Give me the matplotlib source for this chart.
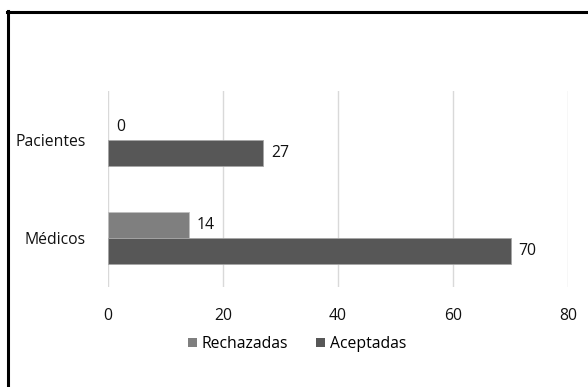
import numpy as np
import matplotlib.pyplot as plt
from matplotlib.patches import Patch
from matplotlib.lines import Line2D

plt.rcParams['font.family'] = ['Open Sans', 'DejaVu Sans']

categorias = ["Médicos", "Pacientes"]
rechazadas = [14, 0]
aceptadas = [70, 27]
series = ["Rechazadas", "Aceptadas"]
color_rech = "#7f7f7f"
color_acep = "#575757"
fs = 11.3

fig = plt.figure(figsize=(5.88, 3.87), dpi=100)
ax = fig.add_axes([108 / 588, 1 - 287 / 387, (568 - 108) / 588, (287 - 91) / 387])

y = np.arange(len(categorias))
h = 0.265
# barras vacias (valor 0) sin borde
ax.barh(y + h / 2, rechazadas, height=h, color=color_rech, edgecolor="#bfbfbf",
        linewidth=[0.6 if v > 0 else 0 for v in rechazadas], zorder=3)
ax.barh(y - h / 2, aceptadas, height=h, color=color_acep, edgecolor="#a6a6a6", linewidth=0.6, zorder=3)

# etiquetas de valor
for i in range(len(categorias)):
    ax.text(rechazadas[i] + 1.4, y[i] + h / 2, str(rechazadas[i]), va="center", ha="left", fontsize=fs, color="#111111")
    ax.text(aceptadas[i] + 1.4, y[i] - h / 2, str(aceptadas[i]), va="center", ha="left", fontsize=fs, color="#111111")

ax.set_xlim(0, 80)
ax.set_ylim(-0.5, 1.5)
ax.set_xticks([0, 20, 40, 60, 80])
ax.set_yticks(y)
ax.set_yticklabels(categorias)
ax.tick_params(axis="both", length=0, labelsize=fs, colors="#111111")
ax.tick_params(axis="x", pad=15)
ax.tick_params(axis="y", pad=16)
ax.grid(axis="x", color="#d9d9d9", linewidth=1, zorder=0)
for s in ax.spines.values():
    s.set_visible(False)

handles = [Patch(facecolor=color_rech), Patch(facecolor=color_acep)]
fig.legend(handles, series, loc="center", bbox_to_anchor=(297 / 588, 1 - 344 / 387), ncol=2,
           frameon=False, fontsize=fs, handlelength=0.55, handleheight=0.55, handletextpad=0.3,
           columnspacing=1.8)

# marco del cuadro (solo izquierda y arriba)
fig.add_artist(Line2D([8 / 588, 8 / 588], [0, 1 - 11 / 387], transform=fig.transFigure, color="black", linewidth=2.2))
fig.add_artist(Line2D([7 / 588, 1], [1 - 11.5 / 387, 1 - 11.5 / 387], transform=fig.transFigure, color="black", linewidth=2.2))

fig.savefig("out.png", dpi=100)
